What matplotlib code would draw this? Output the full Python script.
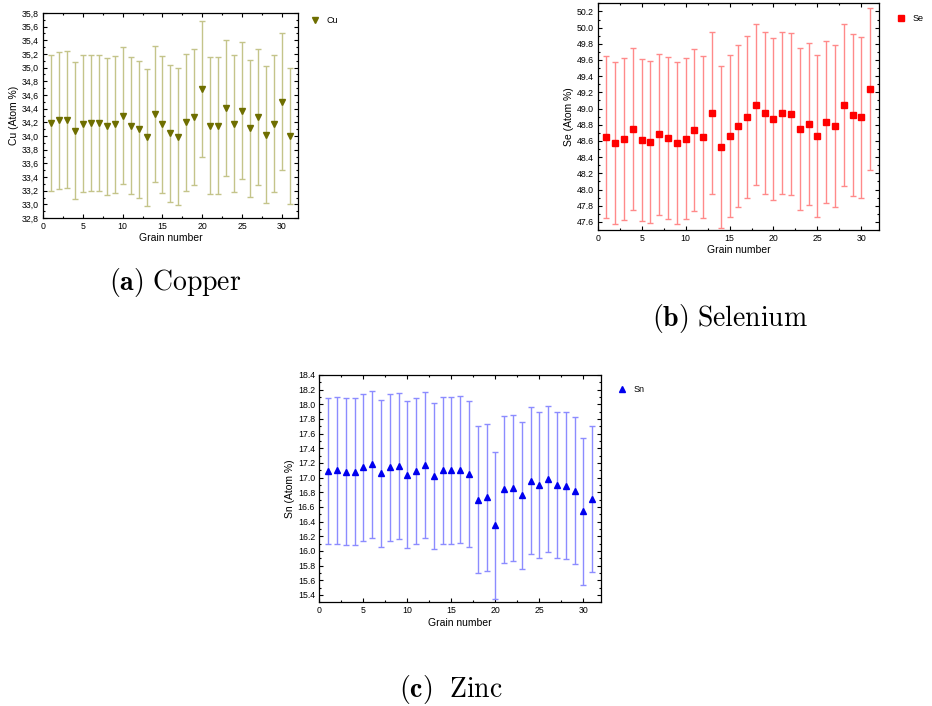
import matplotlib
matplotlib.use('Agg')
import matplotlib.pyplot as plt
from matplotlib.lines import Line2D
from matplotlib.ticker import MultipleLocator, FuncFormatter

plt.rcParams['font.family'] = ['Liberation Sans', 'DejaVu Sans']
plt.rcParams['mathtext.fontset'] = 'cm'

grain = list(range(1, 32))

cu = [34.19, 34.23, 34.24, 34.08, 34.18, 34.19, 34.19, 34.14, 34.17, 34.30,
      34.15, 34.10, 33.98, 34.32, 34.17, 34.04, 33.99, 34.20, 34.28, 34.69,
      34.15, 34.15, 34.41, 34.18, 34.37, 34.11, 34.28, 34.02, 34.18, 34.50, 34.00]
se = [48.65, 48.57, 48.62, 48.75, 48.61, 48.59, 48.68, 48.64, 48.57, 48.63,
      48.73, 48.65, 48.95, 48.52, 48.66, 48.78, 48.90, 49.05, 48.94, 48.87,
      48.94, 48.93, 48.75, 48.81, 48.66, 48.83, 48.78, 49.04, 48.92, 48.89, 49.24]
sn = [17.09, 17.10, 17.08, 17.08, 17.14, 17.18, 17.06, 17.14, 17.16, 17.04,
      17.09, 17.17, 17.02, 17.10, 17.10, 17.11, 17.05, 16.70, 16.73, 16.35,
      16.84, 16.86, 16.76, 16.96, 16.90, 16.98, 16.90, 16.89, 16.82, 16.54, 16.71]
err = 1.0

fig = plt.figure(figsize=(9.32, 7.06), dpi=100)


def panel(rect, y, label, marker, mcolor, ecolor, ylim, ylabel, leg_xy, comma=False):
    ax = fig.add_axes(rect)
    ax.errorbar(grain, y, yerr=err, fmt=marker, color=mcolor, ecolor=ecolor,
                elinewidth=1.0, capsize=2.5, capthick=1.0, markersize=5, zorder=3)
    ax.set_xlim(0, 32)
    ax.set_ylim(*ylim)
    ax.xaxis.set_major_locator(MultipleLocator(5))
    ax.xaxis.set_minor_locator(MultipleLocator(2.5))
    ax.yaxis.set_major_locator(MultipleLocator(0.2))
    ax.yaxis.set_minor_locator(MultipleLocator(0.1))
    if comma:
        ax.yaxis.set_major_formatter(FuncFormatter(lambda v, p: f'{v:.1f}'.replace('.', ',')))
    else:
        ax.yaxis.set_major_formatter(FuncFormatter(lambda v, p: f'{v:.1f}'))
    ax.tick_params(which='both', direction='in', top=True, right=True, labelsize=6.3, width=0.8)
    ax.tick_params(which='major', length=3, pad=3)
    ax.tick_params(which='minor', length=1.5)
    for s in ax.spines.values():
        s.set_linewidth(0.9)
    ax.set_xlabel('Grain number', fontsize=7.5, labelpad=1.5)
    ax.set_ylabel(ylabel, fontsize=7.5, labelpad=2)
    handle = Line2D([], [], linestyle='none', marker=marker, color=mcolor, markersize=5)
    ax.legend([handle], [label], loc='center left', bbox_to_anchor=leg_xy, frameon=False,
              fontsize=6.5, handlelength=1.0, handletextpad=0.8, borderpad=0, borderaxespad=0)
    return ax


panel([0.0461, 0.6912, 0.2736, 0.2904], cu, 'Cu', 'v', '#6e6e00', '#c4c48a',
      (32.8, 35.8), 'Cu (Atom %)', (1.049, 0.961), comma=True)
panel([0.6413, 0.6742, 0.3018, 0.3211], se, 'Se', 's', '#ff0000', '#ff8a8a',
      (47.5, 50.3), 'Se (Atom %)', (1.062, 0.931))
panel([0.3426, 0.1469, 0.3023, 0.3220], sn, 'Sn', '^', '#0000ee', '#8c8cff',
      (15.3, 18.4), 'Sn (Atom %)', (1.059, 0.934))

fig.text(175 / 932, 1 - 282 / 706, r'$\mathbf{(a)}\ \mathrm{Copper}$', fontsize=20,
         ha='center', va='center')
fig.text(730 / 932, 1 - 318 / 706, r'$\mathbf{(b)}\ \mathrm{Selenium}$', fontsize=20,
         ha='center', va='center')
fig.text(451 / 932, 1 - 689 / 706, r'$\mathbf{(c)}\ \ \mathrm{Zinc}$', fontsize=20,
         ha='center', va='center')

fig.savefig('out.png', dpi=100)
